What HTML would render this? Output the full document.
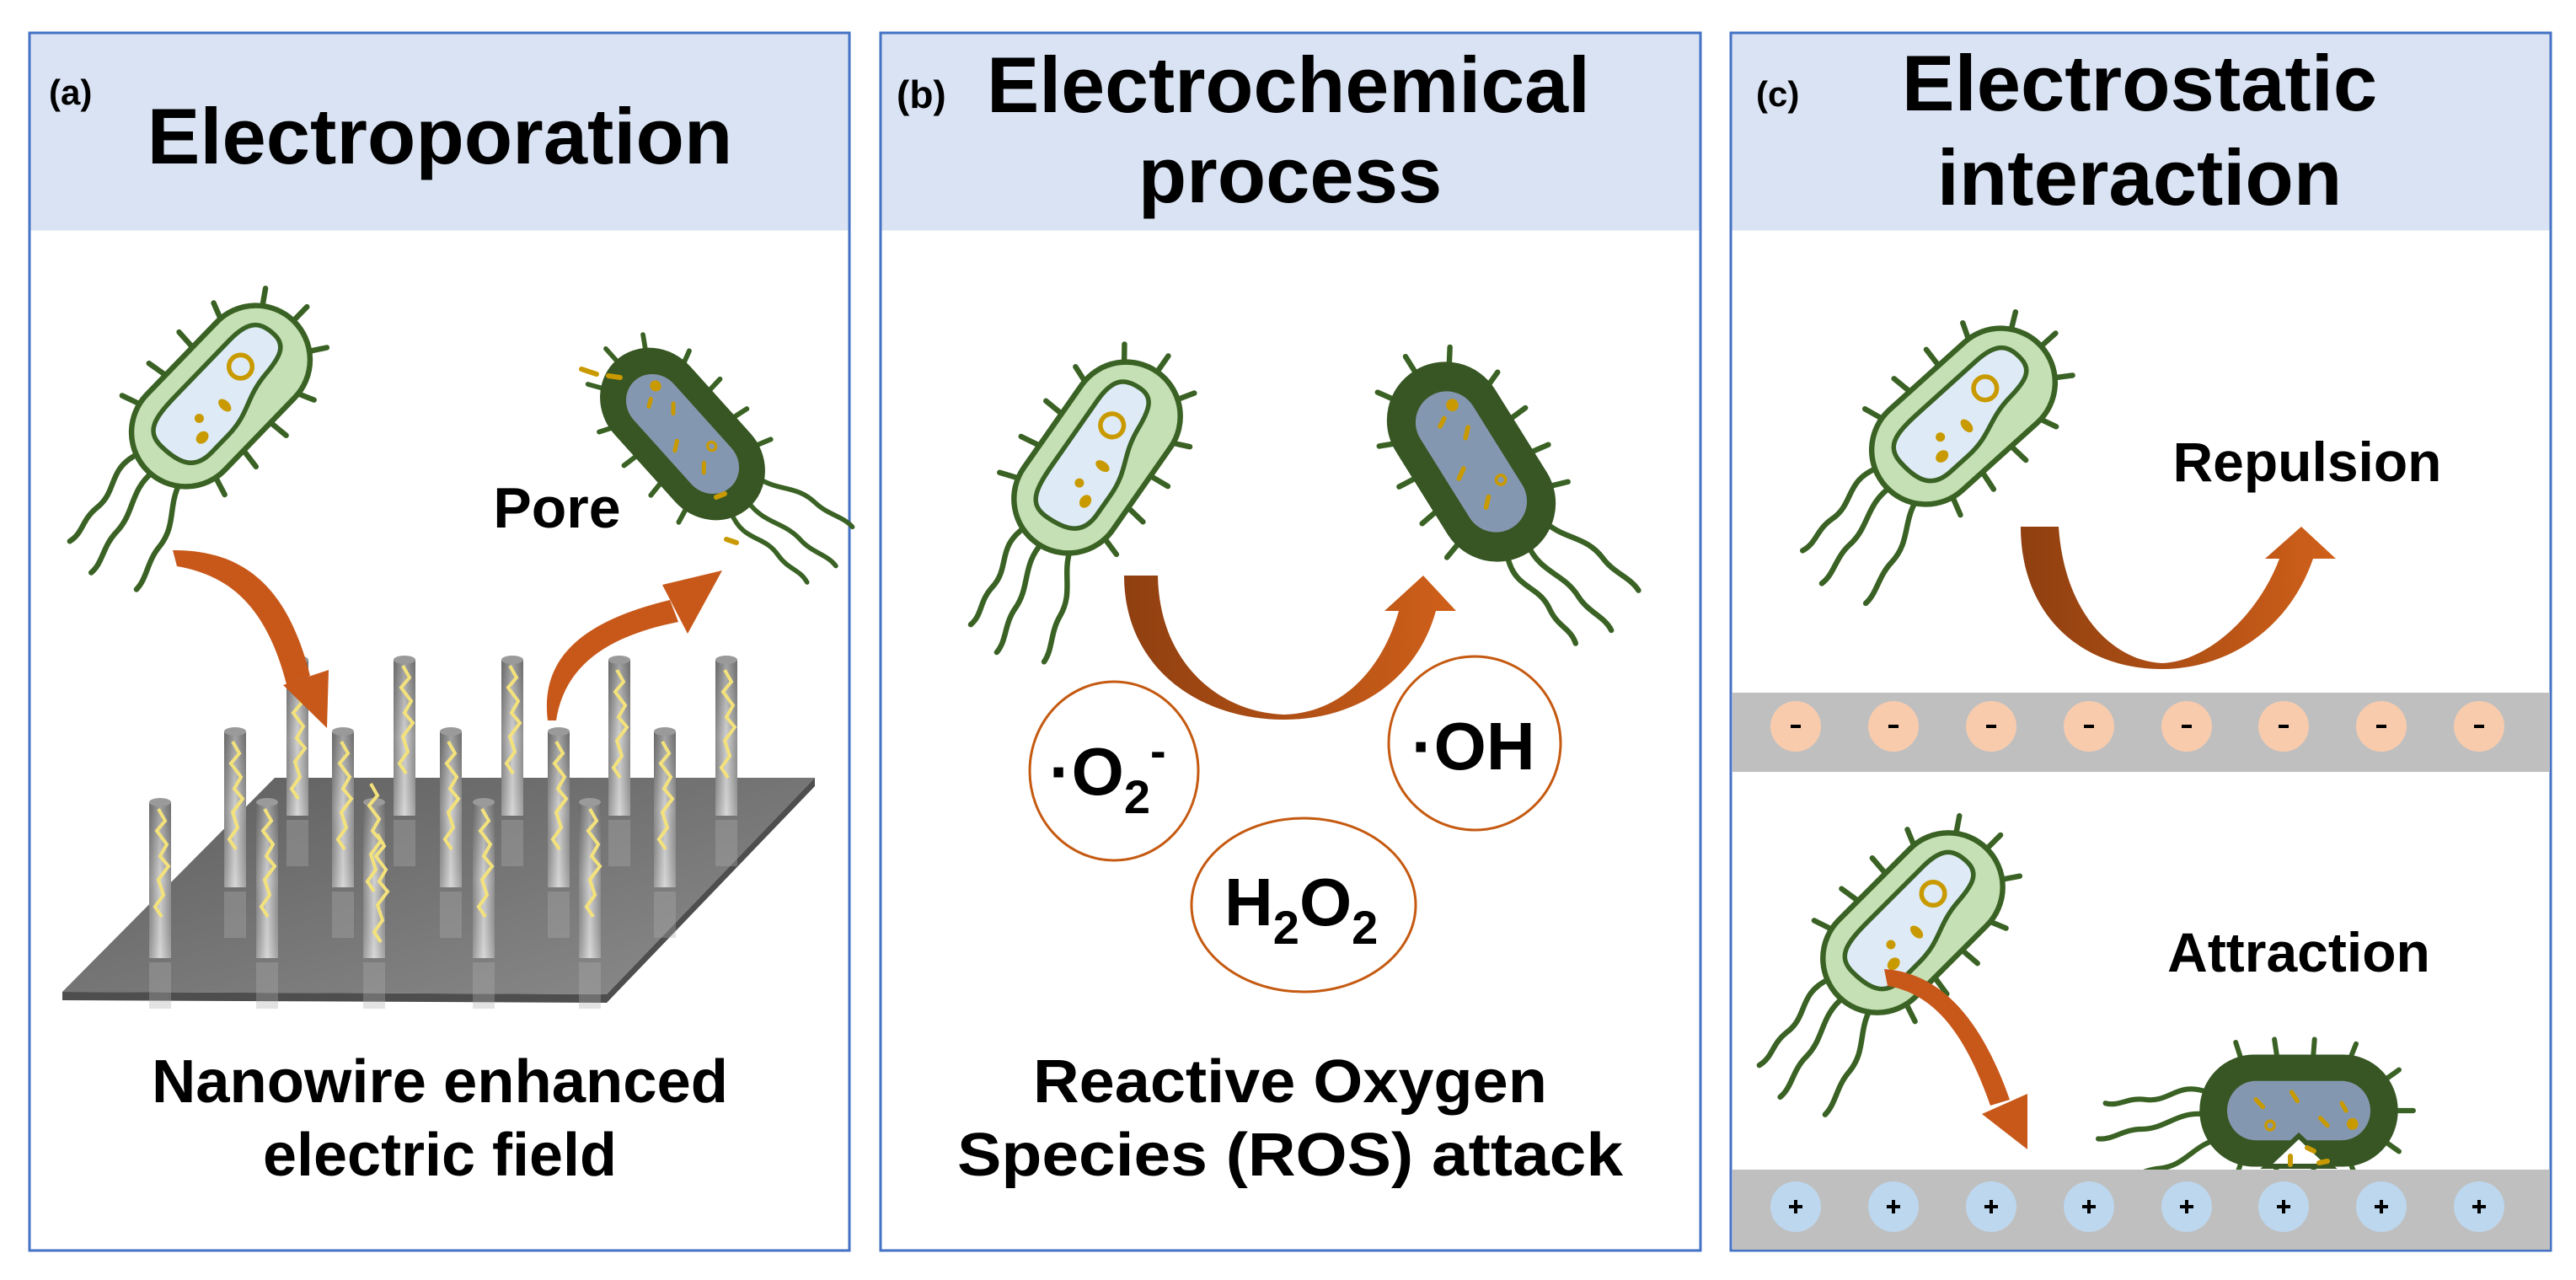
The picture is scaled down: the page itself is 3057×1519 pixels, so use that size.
<!DOCTYPE html>
<html><head><meta charset="utf-8"><style>
html,body{margin:0;padding:0;background:#fff;}
svg{display:block;}
text{font-family:"Liberation Sans",Arial,sans-serif;font-weight:bold;fill:#000;}
</style></head><body>
<svg width="3057" height="1519" viewBox="0 0 3057 1519" xmlns="http://www.w3.org/2000/svg">
<defs>
  <linearGradient id="arr" x1="0" y1="0" x2="1" y2="0">
    <stop offset="0" stop-color="#8f3f10"/><stop offset="1" stop-color="#d0601a"/>
  </linearGradient>
  <linearGradient id="wire" x1="0" y1="0" x2="1" y2="0">
    <stop offset="0" stop-color="#8a8a8a"/><stop offset="0.5" stop-color="#d2d2d2"/><stop offset="1" stop-color="#909090"/>
  </linearGradient>
  <linearGradient id="wirev" x1="0" y1="0" x2="0" y2="1">
    <stop offset="0" stop-color="#000" stop-opacity="0.25"/><stop offset="0.5" stop-color="#000" stop-opacity="0"/><stop offset="1" stop-color="#fff" stop-opacity="0.15"/>
  </linearGradient>
  <linearGradient id="plate" x1="0" y1="0" x2="1" y2="1">
    <stop offset="0" stop-color="#5e5e5e"/><stop offset="1" stop-color="#8c8c8c"/>
  </linearGradient>
  <g id="spikes" stroke="#3a6224" stroke-width="7" stroke-linecap="round">
    <line x1="-80" y1="-68" x2="-88" y2="-92"/><line x1="-30" y1="-70" x2="-34" y2="-96"/>
    <line x1="20" y1="-70" x2="22" y2="-96"/><line x1="70" y1="-66" x2="80" y2="-90"/>
    <line x1="118" y1="-40" x2="140" y2="-55"/><line x1="135" y1="0" x2="160" y2="0"/>
    <line x1="118" y1="40" x2="140" y2="55"/><line x1="70" y1="66" x2="80" y2="90"/>
    <line x1="20" y1="70" x2="22" y2="96"/><line x1="-30" y1="70" x2="-34" y2="96"/>
    <line x1="-80" y1="68" x2="-88" y2="92"/>
  </g>
  <g id="flag" fill="none" stroke="#3a6224" stroke-width="7" stroke-linecap="round">
    <path d="M-128,-25 C-170,-40 -180,-10 -215,-15 C-240,-18 -250,-5 -270,-10"/>
    <path d="M-130,5 C-170,0 -185,25 -220,25 C-245,25 -260,40 -280,38"/>
    <path d="M-118,40 C-150,50 -160,75 -195,78 C-220,80 -235,95 -255,95"/>
  </g>
  <g id="bac">
    <use href="#flag"/><use href="#spikes"/>
    <rect x="-135" y="-70" width="270" height="140" rx="70" fill="#c5e0b4" stroke="#3a6224" stroke-width="7"/>
    <path d="M-100,-10 C-100,-38 -80,-42 -40,-42 L60,-42 C95,-42 105,-30 105,-5 C105,15 90,20 60,22 C20,25 10,42 -30,42 L-60,42 C-90,42 -100,25 -100,-10 Z" fill="#deebf7" stroke="#3a6224" stroke-width="6"/>
    <circle cx="45" cy="-8" r="15" fill="none" stroke="#c99a00" stroke-width="6"/>
    <ellipse cx="-5" cy="12" rx="6" ry="10" fill="#c99a00"/>
    <circle cx="-40" cy="0" r="6" fill="#c99a00"/>
    <ellipse cx="-55" cy="20" rx="9" ry="7" fill="#c99a00"/>
  </g>
  <g id="dead">
    <use href="#flag"/><use href="#spikes"/>
    <rect x="-135" y="-72" width="270" height="144" rx="72" fill="#375623" stroke="#375623" stroke-width="7"/>
    <rect x="-100" y="-40" width="200" height="80" rx="40" fill="#8497b0"/>
    <path d="M-60,-15 l10,10 M-10,-25 l8,12 M30,10 l10,10 M60,-10 l6,10" stroke="#c99a00" stroke-width="6" stroke-linecap="round"/>
    <circle cx="-40" cy="20" r="6" fill="none" stroke="#c99a00" stroke-width="4"/>
    <circle cx="75" cy="18" r="8" fill="#c99a00"/>
  </g>
  <path id="sq" d="M0,0 l8,14 -10,12 12,16 -8,14 10,12 -12,16 6,18 -10,14 8,12" fill="none" stroke="#f3e27c" stroke-width="4"/>
  <g id="nw">
    <rect x="-13" y="0" width="26" height="185" fill="url(#wire)"/>
    <rect x="-13" y="0" width="26" height="185" fill="url(#wirev)"/>
    <ellipse cx="0" cy="0" rx="13" ry="5" fill="#9a9a9a"/>
    <rect x="-13" y="190" width="26" height="55" fill="#b0b0b0" opacity="0.35"/>
  </g>
</defs>

<!-- Panel frames -->
<rect x="35" y="39" width="973" height="1445" fill="#fff" stroke="#4472c4" stroke-width="3"/>
<rect x="36.5" y="40.5" width="970" height="233" fill="#dae3f3"/>
<rect x="1045" y="39" width="973" height="1445" fill="#fff" stroke="#4472c4" stroke-width="3"/>
<rect x="1046.5" y="40.5" width="970" height="233" fill="#dae3f3"/>
<rect x="2054" y="39" width="973" height="1445" fill="#fff" stroke="#4472c4" stroke-width="3"/>
<rect x="2055.5" y="40.5" width="970" height="233" fill="#dae3f3"/>

<!-- Titles -->
<text x="58" y="124" font-size="42">(a)</text>
<text x="522" y="194" font-size="94" text-anchor="middle">Electroporation</text>
<text x="1064" y="128" font-size="46">(b)</text>
<text x="1529" y="133" font-size="94" text-anchor="middle" textLength="716" lengthAdjust="spacingAndGlyphs">Electrochemical</text>
<text x="1531" y="240" font-size="94" text-anchor="middle">process</text>
<text x="2084" y="126" font-size="42">(c)</text>
<text x="2539" y="131" font-size="94" text-anchor="middle">Electrostatic</text>
<text x="2539" y="243" font-size="94" text-anchor="middle">interaction</text>

<!-- Panel A -->
<polygon points="74,1177 326,923 967,923 720,1180" fill="url(#plate)"/>
<polygon points="74,1177 720,1180 967,923 967,933 720,1190 74,1187" fill="#4e4e4e"/>
<g>
  <use href="#nw" x="353" y="783"/><use href="#nw" x="480" y="783"/><use href="#nw" x="608" y="783"/><use href="#nw" x="735" y="783"/><use href="#nw" x="862" y="783"/>
  <use href="#nw" x="279" y="868"/><use href="#nw" x="407" y="868"/><use href="#nw" x="535" y="868"/><use href="#nw" x="663" y="868"/><use href="#nw" x="789" y="868"/>
  <use href="#nw" x="190" y="952"/><use href="#nw" x="317" y="952"/><use href="#nw" x="444" y="952"/><use href="#nw" x="574" y="952"/><use href="#nw" x="700" y="952"/>
</g>
<g>
  <use href="#sq" x="350" y="820"/><use href="#sq" x="478" y="790"/><use href="#sq" x="605" y="790"/><use href="#sq" x="732" y="795"/><use href="#sq" x="860" y="795"/>
  <use href="#sq" x="276" y="880"/><use href="#sq" x="405" y="880"/><use href="#sq" x="440" y="930"/><use href="#sq" x="532" y="880"/><use href="#sq" x="660" y="880"/><use href="#sq" x="786" y="880"/>
  <use href="#sq" x="188" y="960"/><use href="#sq" x="314" y="960"/><use href="#sq" x="448" y="990"/><use href="#sq" x="572" y="960"/><use href="#sq" x="700" y="960"/>
</g>
<path d="M205,653 C300,652 345,710 368,802 L340,812 C318,728 280,684 210,672 Z" fill="#c8581a"/>
<polygon points="336,813 390,795 388,864" fill="#c8581a"/>
<path d="M650,855 C640,775 700,735 795,712 L805,738 C720,755 670,790 660,855 Z" fill="#c8581a"/>
<polygon points="786,694 857,677 816,752" fill="#c8581a"/>
<use href="#bac" transform="translate(262,470) rotate(-46) scale(0.92)"/>
<use href="#dead" transform="translate(810,515) rotate(-132) scale(0.85,0.8)"/>
<path d="M690,438 l18,6 M722,446 l14,2 M850,590 l10,-4 M862,640 l12,4" stroke="#c99a00" stroke-width="6" stroke-linecap="round"/>
<text x="661" y="626" font-size="68" text-anchor="middle">Pore</text>
<text x="522" y="1308" font-size="72" text-anchor="middle" textLength="684" lengthAdjust="spacingAndGlyphs">Nanowire enhanced</text>
<text x="522" y="1395" font-size="72" text-anchor="middle" textLength="420" lengthAdjust="spacingAndGlyphs">electric field</text>

<!-- Panel B -->
<use href="#bac" transform="translate(1302,543) rotate(-55) scale(0.92)"/>
<use href="#dead" transform="translate(1746,548) rotate(-122) scale(0.92)"/>
<path d="M1334,683 L1374,683 C1376,790 1450,846 1524,848 C1592,846 1640,795 1660,725 L1643,725 L1689,683 L1728,725 L1704,725 C1682,805 1612,854 1524,854 C1420,854 1334,790 1334,683 Z" fill="url(#arr)"/>
<ellipse cx="1322" cy="915" rx="100" ry="106" fill="none" stroke="#c55a11" stroke-width="3"/>
<ellipse cx="1750" cy="882" rx="102" ry="103" fill="none" stroke="#c55a11" stroke-width="3"/>
<ellipse cx="1547" cy="1074" rx="133" ry="103" fill="none" stroke="#c55a11" stroke-width="3"/>
<text x="1245" y="943" font-size="80">·O<tspan font-size="56" dy="22">2</tspan><tspan font-size="56" dy="-55">-</tspan></text>
<text x="1675" y="913" font-size="80">·OH</text>
<text x="1453" y="1098" font-size="80">H<tspan font-size="56" dy="22">2</tspan><tspan dy="-22">O</tspan><tspan font-size="56" dy="22">2</tspan></text>
<text x="1531" y="1308" font-size="72" text-anchor="middle" textLength="610" lengthAdjust="spacingAndGlyphs">Reactive Oxygen</text>
<text x="1531" y="1395" font-size="72" text-anchor="middle" textLength="790" lengthAdjust="spacingAndGlyphs">Species (ROS) attack</text>

<!-- Panel C -->
<use href="#bac" transform="translate(2330,494) rotate(-42) scale(0.92)"/>
<text x="2738" y="571" font-size="66" text-anchor="middle">Repulsion</text>
<path d="M2398,625 L2443,625 C2450,730 2510,785 2566,787 C2620,785 2680,730 2705,663 L2688,663 L2731,625 L2772,663 L2745,663 C2715,750 2640,794 2566,794 C2470,794 2398,730 2398,625 Z" fill="url(#arr)"/>
<rect x="2056" y="822" width="970" height="94" fill="#bfbfbf"/>
<g fill="#f8cbad">
  <circle cx="2131" cy="862" r="30"/><circle cx="2247" cy="862" r="30"/><circle cx="2363" cy="862" r="30"/><circle cx="2479" cy="862" r="30"/>
  <circle cx="2595" cy="862" r="30"/><circle cx="2710" cy="862" r="30"/><circle cx="2826" cy="862" r="30"/><circle cx="2942" cy="862" r="30"/>
</g>
<g stroke="#000" stroke-width="4">
  <line x1="2125" y1="862" x2="2137" y2="862"/><line x1="2241" y1="862" x2="2253" y2="862"/><line x1="2357" y1="862" x2="2369" y2="862"/><line x1="2473" y1="862" x2="2485" y2="862"/>
  <line x1="2589" y1="862" x2="2601" y2="862"/><line x1="2704" y1="862" x2="2716" y2="862"/><line x1="2820" y1="862" x2="2832" y2="862"/><line x1="2936" y1="862" x2="2948" y2="862"/>
</g>
<use href="#bac" transform="translate(2270,1095) rotate(-45) scale(0.92)"/>
<text x="2728" y="1153" font-size="66" text-anchor="middle">Attraction</text>
<path d="M2236,1150 C2310,1155 2355,1220 2385,1305 L2362,1312 C2335,1235 2300,1180 2240,1170 Z" fill="#c8581a"/>
<polygon points="2352,1322 2406,1298 2406,1364" fill="#c8581a"/>
<use href="#dead" transform="translate(2728,1318) scale(0.85,0.88)"/>
<path d="M2690,1384 L2728,1348 L2766,1384 Z" fill="#fff" stroke="#375623" stroke-width="6"/>
<path d="M2718,1372 l0,10 M2738,1362 l8,4 M2752,1380 l10,-2" stroke="#c99a00" stroke-width="6" stroke-linecap="round"/>
<rect x="2056" y="1388" width="970" height="95" fill="#bfbfbf"/>
<g fill="#bdd7ee">
  <circle cx="2131" cy="1432" r="30"/><circle cx="2247" cy="1432" r="30"/><circle cx="2363" cy="1432" r="30"/><circle cx="2479" cy="1432" r="30"/>
  <circle cx="2595" cy="1432" r="30"/><circle cx="2710" cy="1432" r="30"/><circle cx="2826" cy="1432" r="30"/><circle cx="2942" cy="1432" r="30"/>
</g>
<g stroke="#000" stroke-width="4">
  <path d="M2123,1432 h16 M2131,1424 v16"/><path d="M2239,1432 h16 M2247,1424 v16"/><path d="M2355,1432 h16 M2363,1424 v16"/><path d="M2471,1432 h16 M2479,1424 v16"/>
  <path d="M2587,1432 h16 M2595,1424 v16"/><path d="M2702,1432 h16 M2710,1424 v16"/><path d="M2818,1432 h16 M2826,1424 v16"/><path d="M2934,1432 h16 M2942,1424 v16"/>
</g>
</svg>
</body></html>
